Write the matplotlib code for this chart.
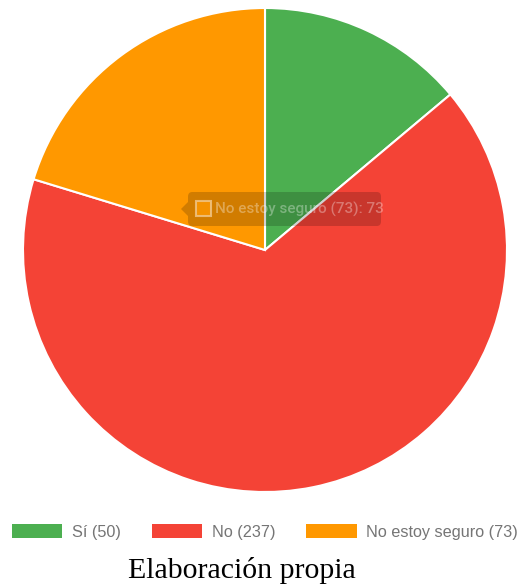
import matplotlib.pyplot as plt
from matplotlib.patches import FancyBboxPatch, Polygon, Rectangle, Patch

labels = ['Sí', 'No', 'No estoy seguro']
counts = [50, 237, 73]
colors = ['#4caf50', '#f44336', '#ff9800']
hover = 2  # slice with the tooltip showing

W, H = 520, 586
fig = plt.figure(figsize=(W / 100, H / 100), dpi=100)
fig.patch.set_facecolor('white')

ax = fig.add_axes([23 / W, 94 / H, 484 / W, 484 / H])
wedges, _ = ax.pie(counts, colors=colors, startangle=90, counterclock=False,
                   radius=1, wedgeprops=dict(edgecolor='white', linewidth=1.5))
ax.set_xlim(-1, 1)
ax.set_ylim(-1, 1)
ax.set_aspect('equal')
ax.axis('off')


def px(x, y):
    # pixel position measured from the top-left corner
    return x / W, 1 - y / H


# hover tooltip
x0, y0 = px(188, 226)
x1, y1 = px(381, 192)
box = FancyBboxPatch((x0, y0), x1 - x0, y1 - y0, transform=fig.transFigure,
                     boxstyle='round,pad=0,rounding_size=0.008',
                     facecolor='black', alpha=0.18, edgecolor='none')
fig.patches.append(box)
tri = Polygon([px(188, 202), px(181, 209), px(188, 216)], closed=True,
              transform=fig.transFigure, facecolor='black', alpha=0.18,
              edgecolor='none')
fig.patches.append(tri)
sx, sy = px(196, 216)
sq = Rectangle((sx, sy), 15 / W, 15 / H, transform=fig.transFigure,
               facecolor=colors[hover], edgecolor='#f0c890', linewidth=1.5,
               alpha=0.8)
fig.patches.append(sq)
tx, ty = px(215, 209)
fig.text(tx, ty, f'{labels[hover]} ({counts[hover]}): {counts[hover]}',
         fontsize=11, family='Roboto', weight='medium', color='white',
         alpha=0.33, va='center', ha='left', clip_on=True)

# legend along the bottom
handles = [Patch(facecolor=c, edgecolor='none') for c in colors]
legend_labels = [f'{l} ({v})' for l, v in zip(labels, counts)]
lx, ly = px(265, 532)
fig.legend(handles, legend_labels, loc='center', bbox_to_anchor=(lx, ly),
           ncol=3, frameon=False,
           prop={'family': 'Liberation Sans', 'size': 11.7},
           handlelength=3.1, handleheight=0.95, handletextpad=0.6,
           columnspacing=1.9, labelcolor='#757575')

cx, cy = px(242, 578)
fig.text(cx, cy, 'Elaboración propia', family='Liberation Serif',
         fontsize=21.5, color='black', ha='center', va='baseline')

fig.savefig('out.png', dpi=100)
